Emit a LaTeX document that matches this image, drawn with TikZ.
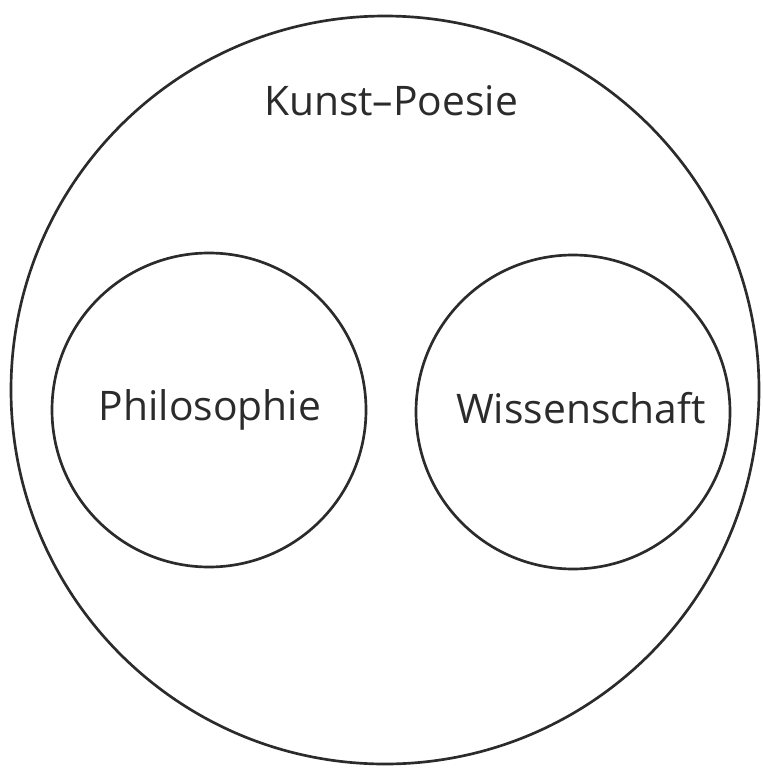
\documentclass[tikz,border=0pt]{standalone}
\usepackage{fontspec}
\setmainfont{Open Sans}
\usepackage{tikz}
\usetikzlibrary{positioning}
\definecolor{ink}{HTML}{2B2B2B}
\tikzset{
  ring/.style    = {circle, draw=ink, line width=1.9pt, inner sep=0pt},
  bigring/.style = {ring, minimum size=748*0.25mm},
  subring/.style = {ring, minimum size=314*0.25mm},
  lbl/.style     = {text=ink, font=\fontsize{29}{34}\selectfont, inner sep=0pt},
}
\begin{document}
\begin{tikzpicture}[x=0.25mm, y=-0.25mm]
  \useasboundingbox (0,0) rectangle (762,768);
  \node[bigring] (kunst) at (385,390) {};
  \node[lbl, anchor=base] (kunsttxt) at (391,115) {Kunst--Poesie};
  \node[subring] (philo) at (209,410) {};
  \node[lbl] (philotxt) at (210,410) {Philosophie};
  \node[subring] (wiss) at (573,412) {};
  \node[lbl] (wisstxt) at (581,408) {Wissenschaft};
\end{tikzpicture}
\end{document}
